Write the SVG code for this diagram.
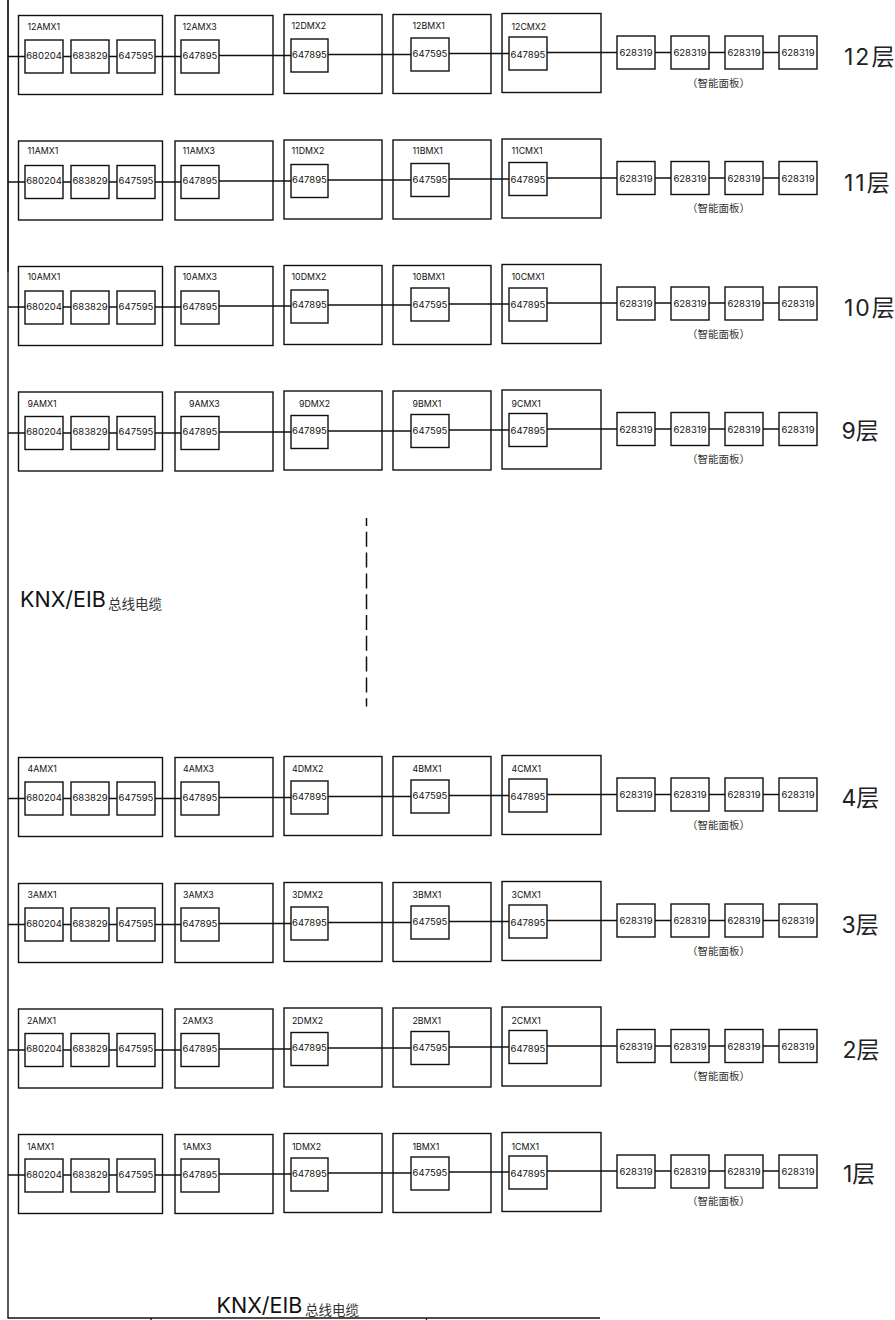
<svg xmlns="http://www.w3.org/2000/svg" width="895" height="1320" viewBox="0 0 895 1320">
<style>
rect{fill:#fff;stroke:#111;stroke-width:1.4}
rect.o{fill:none}
line{stroke:#111;stroke-width:1.4;fill:none}
text{font-family:Inter,"Noto Sans CJK SC",sans-serif;fill:#111;font-size:9.5px}
.c{text-anchor:middle}
.l{font-size:8.8px}
.f{font-size:23px;fill:#222}
.n{font-size:10.5px;text-anchor:middle;fill:#333}
.k{font-size:21.5px}
.z{font-size:13.5px;fill:#333}
</style>
<defs>
<g id="w">
<line x1="8" y1="56.5" x2="181" y2="56.5"/><line x1="219" y1="55.5" x2="291" y2="55.5"/><line x1="328" y1="54.5" x2="411" y2="54.5"/><line x1="449" y1="53.5" x2="509" y2="53.5"/><line x1="547" y1="52.5" x2="779" y2="52.5"/>
</g>
</defs>
<g id="connectors">
<line x1="8" y1="0" x2="8" y2="272" style="stroke-width:1.7"/>
<line x1="8" y1="272" x2="8" y2="1318"/>
<line x1="7.5" y1="1318" x2="600" y2="1318"/>
<line x1="151" y1="1318" x2="151" y2="1320"/>
<line x1="426.5" y1="1318" x2="426.5" y2="1320"/>
<line x1="366.5" y1="518" x2="366.5" y2="706.5" stroke-dasharray="15 5.8" stroke-dashoffset="7" style="stroke-width:1.5"/>
<use href="#w"/><use href="#w" y="125.5"/><use href="#w" y="250.5"/><use href="#w" y="376.5"/><use href="#w" y="742"/><use href="#w" y="868"/><use href="#w" y="993.5"/><use href="#w" y="1118.5"/>
</g>
<g id="floor-12">
<g id="n12a1"><rect class="o" x="18.5" y="15.5" width="144" height="79"/><text class="l" x="27.5" y="30">12AMX1</text><rect x="25" y="40" width="38" height="33"/><text class="c" x="44" y="58.5">680204</text><rect x="71" y="40" width="38" height="33"/><text class="c" x="90" y="58.5">683829</text><rect x="117" y="40" width="38" height="33"/><text class="c" x="136" y="58.5">647595</text></g>
<g id="n12a3"><rect class="o" x="175" y="15.5" width="98" height="79"/><text class="l" x="182.5" y="30">12AMX3</text><rect x="181" y="40" width="38" height="33"/><text class="c" x="200" y="58.5">647895</text></g>
<g id="n12d"><rect class="o" x="284" y="14.5" width="98" height="79"/><text class="l" x="291.5" y="29">12DMX2</text><rect x="291" y="39" width="37" height="33"/><text class="c" x="309.5" y="57.5">647895</text></g>
<g id="n12b"><rect class="o" x="393" y="14.5" width="98" height="79"/><text class="l" x="412.5" y="29">12BMX1</text><rect x="411" y="38" width="38" height="33"/><text class="c" x="430" y="57">647595</text></g>
<g id="n12c"><rect class="o" x="502" y="13.5" width="99" height="79"/><text class="l" x="511.5" y="30">12CMX2</text><rect x="509" y="37" width="38" height="33"/><text class="c" x="528" y="57.5">647895</text></g>
<g id="n12p"><rect x="617" y="36" width="38" height="33"/><text class="c" x="636" y="56">628319</text><rect x="671" y="36" width="38" height="33"/><text class="c" x="690" y="56">628319</text><rect x="725" y="36" width="38" height="33"/><text class="c" x="744" y="56">628319</text><rect x="779" y="36" width="38" height="33"/><text class="c" x="798" y="56">628319</text><text class="n" x="718.5" y="86.5">（智能面板）</text></g>
<text class="f" x="844" y="65" letter-spacing="2">12层</text>
</g>
<g id="floor-11" transform="translate(0,125.5)">
<g id="n11a1"><rect class="o" x="18.5" y="15.5" width="144" height="79"/><text class="l" x="27.5" y="28.5">11AMX1</text><rect x="25" y="40" width="38" height="33"/><text class="c" x="44" y="58.5">680204</text><rect x="71" y="40" width="38" height="33"/><text class="c" x="90" y="58.5">683829</text><rect x="117" y="40" width="38" height="33"/><text class="c" x="136" y="58.5">647595</text></g>
<g id="n11a3"><rect class="o" x="175" y="15.5" width="98" height="79"/><text class="l" x="182.5" y="28.5">11AMX3</text><rect x="181" y="40" width="38" height="33"/><text class="c" x="200" y="58.5">647895</text></g>
<g id="n11d"><rect class="o" x="284" y="14.5" width="98" height="79"/><text class="l" x="291.5" y="28.5">11DMX2</text><rect x="291" y="39" width="37" height="33"/><text class="c" x="309.5" y="57.5">647895</text></g>
<g id="n11b"><rect class="o" x="393" y="14.5" width="98" height="79"/><text class="l" x="412.5" y="28.5">11BMX1</text><rect x="411" y="38" width="38" height="33"/><text class="c" x="430" y="57">647595</text></g>
<g id="n11c"><rect class="o" x="502" y="13.5" width="99" height="79"/><text class="l" x="511.5" y="28.5">11CMX1</text><rect x="509" y="37" width="38" height="33"/><text class="c" x="528" y="57.5">647895</text></g>
<g id="n11p"><rect x="617" y="36" width="38" height="33"/><text class="c" x="636" y="56">628319</text><rect x="671" y="36" width="38" height="33"/><text class="c" x="690" y="56">628319</text><rect x="725" y="36" width="38" height="33"/><text class="c" x="744" y="56">628319</text><rect x="779" y="36" width="38" height="33"/><text class="c" x="798" y="56">628319</text><text class="n" x="718.5" y="86.5">（智能面板）</text></g>
<text class="f" x="844" y="65" letter-spacing="2">11层</text>
</g>
<g id="floor-10" transform="translate(0,251)">
<g id="n10a1"><rect class="o" x="18.5" y="15.5" width="144" height="79"/><text class="l" x="27.5" y="29">10AMX1</text><rect x="25" y="40" width="38" height="33"/><text class="c" x="44" y="58.5">680204</text><rect x="71" y="40" width="38" height="33"/><text class="c" x="90" y="58.5">683829</text><rect x="117" y="40" width="38" height="33"/><text class="c" x="136" y="58.5">647595</text></g>
<g id="n10a3"><rect class="o" x="175" y="15.5" width="98" height="79"/><text class="l" x="182.5" y="29">10AMX3</text><rect x="181" y="40" width="38" height="33"/><text class="c" x="200" y="58.5">647895</text></g>
<g id="n10d"><rect class="o" x="284" y="14.5" width="98" height="79"/><text class="l" x="291.5" y="29">10DMX2</text><rect x="291" y="39" width="37" height="33"/><text class="c" x="309.5" y="57">647895</text></g>
<g id="n10b"><rect class="o" x="393" y="14.5" width="98" height="79"/><text class="l" x="412.5" y="29">10BMX1</text><rect x="411" y="37" width="38" height="33"/><text class="c" x="430" y="57">647595</text></g>
<g id="n10c"><rect class="o" x="502" y="13.5" width="99" height="79"/><text class="l" x="511.5" y="29">10CMX1</text><rect x="509" y="37" width="38" height="33"/><text class="c" x="528" y="57">647895</text></g>
<g id="n10p"><rect x="617" y="36" width="38" height="33"/><text class="c" x="636" y="56">628319</text><rect x="671" y="36" width="38" height="33"/><text class="c" x="690" y="56">628319</text><rect x="725" y="36" width="38" height="33"/><text class="c" x="744" y="56">628319</text><rect x="779" y="36" width="38" height="33"/><text class="c" x="798" y="56">628319</text><text class="n" x="718.5" y="86.5">（智能面板）</text></g>
<text class="f" x="844" y="65" letter-spacing="2">10层</text>
</g>
<g id="floor-9" transform="translate(0,376.5)">
<g id="n9a1"><rect class="o" x="18.5" y="15.5" width="144" height="79"/><text class="l" x="27.5" y="30.5">9AMX1</text><rect x="25" y="40" width="38" height="33"/><text class="c" x="44" y="58.5">680204</text><rect x="71" y="40" width="38" height="33"/><text class="c" x="90" y="58.5">683829</text><rect x="117" y="40" width="38" height="33"/><text class="c" x="136" y="58.5">647595</text></g>
<g id="n9a3"><rect class="o" x="175" y="15.5" width="98" height="79"/><text class="l" x="189" y="30.5">9AMX3</text><rect x="181" y="40" width="38" height="33"/><text class="c" x="200" y="58.5">647895</text></g>
<g id="n9d"><rect class="o" x="284" y="14.5" width="98" height="79"/><text class="l" x="299" y="30.5">9DMX2</text><rect x="291" y="39" width="37" height="33"/><text class="c" x="309.5" y="57.5">647895</text></g>
<g id="n9b"><rect class="o" x="393" y="14.5" width="98" height="79"/><text class="l" x="412.5" y="30.5">9BMX1</text><rect x="411" y="38" width="38" height="33"/><text class="c" x="430" y="57">647595</text></g>
<g id="n9c"><rect class="o" x="502" y="13.5" width="99" height="79"/><text class="l" x="511.5" y="30.5">9CMX1</text><rect x="509" y="37" width="38" height="33"/><text class="c" x="528" y="57.5">647895</text></g>
<g id="n9p"><rect x="617" y="36" width="38" height="33"/><text class="c" x="636" y="56">628319</text><rect x="671" y="36" width="38" height="33"/><text class="c" x="690" y="56">628319</text><rect x="725" y="36" width="38" height="33"/><text class="c" x="744" y="56">628319</text><rect x="779" y="36" width="38" height="33"/><text class="c" x="798" y="56">628319</text><text class="n" x="718.5" y="86.5">（智能面板）</text></g>
<text class="f" x="841.5" y="62">9层</text>
</g>
<g id="floor-4" transform="translate(0,742)">
<g id="n4a1"><rect class="o" x="18.5" y="15.5" width="144" height="79"/><text class="l" x="27.5" y="30">4AMX1</text><rect x="25" y="40" width="38" height="33"/><text class="c" x="44" y="58.5">680204</text><rect x="71" y="40" width="38" height="33"/><text class="c" x="90" y="58.5">683829</text><rect x="117" y="40" width="38" height="33"/><text class="c" x="136" y="58.5">647595</text></g>
<g id="n4a3"><rect class="o" x="175" y="15.5" width="98" height="79"/><text class="l" x="183" y="30">4AMX3</text><rect x="181" y="40" width="38" height="33"/><text class="c" x="200" y="58.5">647895</text></g>
<g id="n4d"><rect class="o" x="284" y="14.5" width="98" height="79"/><text class="l" x="292" y="30">4DMX2</text><rect x="291" y="39" width="37" height="33"/><text class="c" x="309.5" y="57.5">647895</text></g>
<g id="n4b"><rect class="o" x="393" y="14.5" width="98" height="79"/><text class="l" x="412.5" y="30">4BMX1</text><rect x="411" y="38" width="38" height="33"/><text class="c" x="430" y="57">647595</text></g>
<g id="n4c"><rect class="o" x="502" y="13.5" width="99" height="79"/><text class="l" x="511.5" y="30">4CMX1</text><rect x="509" y="37" width="38" height="33"/><text class="c" x="528" y="57.5">647895</text></g>
<g id="n4p"><rect x="617" y="36" width="38" height="33"/><text class="c" x="636" y="56">628319</text><rect x="671" y="36" width="38" height="33"/><text class="c" x="690" y="56">628319</text><rect x="725" y="36" width="38" height="33"/><text class="c" x="744" y="56">628319</text><rect x="779" y="36" width="38" height="33"/><text class="c" x="798" y="56">628319</text><text class="n" x="718.5" y="86.5">（智能面板）</text></g>
<text class="f" x="841.5" y="64">4层</text>
</g>
<g id="floor-3" transform="translate(0,868)">
<g id="n3a1"><rect class="o" x="18.5" y="15.5" width="144" height="79"/><text class="l" x="27.5" y="30">3AMX1</text><rect x="25" y="40" width="38" height="33"/><text class="c" x="44" y="58.5">680204</text><rect x="71" y="40" width="38" height="33"/><text class="c" x="90" y="58.5">683829</text><rect x="117" y="40" width="38" height="33"/><text class="c" x="136" y="58.5">647595</text></g>
<g id="n3a3"><rect class="o" x="175" y="15.5" width="98" height="79"/><text class="l" x="183" y="30">3AMX3</text><rect x="181" y="40" width="38" height="33"/><text class="c" x="200" y="58.5">647895</text></g>
<g id="n3d"><rect class="o" x="284" y="14.5" width="98" height="79"/><text class="l" x="292" y="30">3DMX2</text><rect x="291" y="39" width="37" height="33"/><text class="c" x="309.5" y="57.5">647895</text></g>
<g id="n3b"><rect class="o" x="393" y="14.5" width="98" height="79"/><text class="l" x="412.5" y="30">3BMX1</text><rect x="411" y="38" width="38" height="33"/><text class="c" x="430" y="57">647595</text></g>
<g id="n3c"><rect class="o" x="502" y="13.5" width="99" height="79"/><text class="l" x="511.5" y="30">3CMX1</text><rect x="509" y="37" width="38" height="33"/><text class="c" x="528" y="57.5">647895</text></g>
<g id="n3p"><rect x="617" y="36" width="38" height="33"/><text class="c" x="636" y="56">628319</text><rect x="671" y="36" width="38" height="33"/><text class="c" x="690" y="56">628319</text><rect x="725" y="36" width="38" height="33"/><text class="c" x="744" y="56">628319</text><rect x="779" y="36" width="38" height="33"/><text class="c" x="798" y="56">628319</text><text class="n" x="718.5" y="86.5">（智能面板）</text></g>
<text class="f" x="841.5" y="65">3层</text>
</g>
<g id="floor-2" transform="translate(0,993.5)">
<g id="n2a1"><rect class="o" x="18.5" y="15.5" width="144" height="79"/><text class="l" x="27" y="30.8">2AMX1</text><rect x="25" y="40" width="38" height="33"/><text class="c" x="44" y="58.5">680204</text><rect x="71" y="40" width="38" height="33"/><text class="c" x="90" y="58.5">683829</text><rect x="117" y="40" width="38" height="33"/><text class="c" x="136" y="58.5">647595</text></g>
<g id="n2a3"><rect class="o" x="175" y="15.5" width="98" height="79"/><text class="l" x="182.5" y="30.8">2AMX3</text><rect x="181" y="40" width="38" height="33"/><text class="c" x="200" y="58.5">647895</text></g>
<g id="n2d"><rect class="o" x="284" y="14.5" width="98" height="79"/><text class="l" x="292" y="30.8">2DMX2</text><rect x="291" y="39" width="37" height="33"/><text class="c" x="309.5" y="57.5">647895</text></g>
<g id="n2b"><rect class="o" x="393" y="14.5" width="98" height="79"/><text class="l" x="412.5" y="30.8">2BMX1</text><rect x="411" y="38" width="38" height="33"/><text class="c" x="430" y="57">647595</text></g>
<g id="n2c"><rect class="o" x="502" y="13.5" width="99" height="79"/><text class="l" x="511.5" y="30.8">2CMX1</text><rect x="509" y="37" width="38" height="33"/><text class="c" x="528" y="58">647895</text></g>
<g id="n2p"><rect x="617" y="36" width="38" height="33"/><text class="c" x="636" y="56">628319</text><rect x="671" y="36" width="38" height="33"/><text class="c" x="690" y="56">628319</text><rect x="725" y="36" width="38" height="33"/><text class="c" x="744" y="56">628319</text><rect x="779" y="36" width="38" height="33"/><text class="c" x="798" y="56">628319</text><text class="n" x="718.5" y="86">（智能面板）</text></g>
<text class="f" x="842.5" y="64.5">2层</text>
</g>
<g id="floor-1" transform="translate(0,1119)">
<g id="n1a1"><rect class="o" x="18.5" y="15.5" width="144" height="79"/><text class="l" x="27" y="31">1AMX1</text><rect x="25" y="40" width="38" height="33"/><text class="c" x="44" y="58.5">680204</text><rect x="71" y="40" width="38" height="33"/><text class="c" x="90" y="58.5">683829</text><rect x="117" y="40" width="38" height="33"/><text class="c" x="136" y="58.5">647595</text></g>
<g id="n1a3"><rect class="o" x="175" y="15.5" width="98" height="79"/><text class="l" x="182.5" y="31">1AMX3</text><rect x="181" y="40" width="38" height="33"/><text class="c" x="200" y="58.5">647895</text></g>
<g id="n1d"><rect class="o" x="284" y="14.5" width="98" height="79"/><text class="l" x="292" y="31">1DMX2</text><rect x="291" y="39" width="37" height="33"/><text class="c" x="309.5" y="57.5">647895</text></g>
<g id="n1b"><rect class="o" x="393" y="14.5" width="98" height="79"/><text class="l" x="412.5" y="31">1BMX1</text><rect x="411" y="38" width="38" height="33"/><text class="c" x="430" y="57">647595</text></g>
<g id="n1c"><rect class="o" x="502" y="13.5" width="99" height="79"/><text class="l" x="511.5" y="31">1CMX1</text><rect x="509" y="37" width="38" height="33"/><text class="c" x="528" y="57.5">647895</text></g>
<g id="n1p"><rect x="617" y="36" width="38" height="33"/><text class="c" x="636" y="56">628319</text><rect x="671" y="36" width="38" height="33"/><text class="c" x="690" y="56">628319</text><rect x="725" y="36" width="38" height="33"/><text class="c" x="744" y="56">628319</text><rect x="779" y="36" width="38" height="33"/><text class="c" x="798" y="56">628319</text><text class="n" x="718.5" y="86">（智能面板）</text></g>
<text class="f" x="843" y="63">1层</text>
</g>
<g id="cable-labels">
<text class="k" x="20" y="607">KNX/EIB</text><text class="z" x="108" y="609">总线电缆</text>
<text class="k" x="216.5" y="1313">KNX/EIB</text><text class="z" x="305" y="1315">总线电缆</text>
</g>
</svg>
